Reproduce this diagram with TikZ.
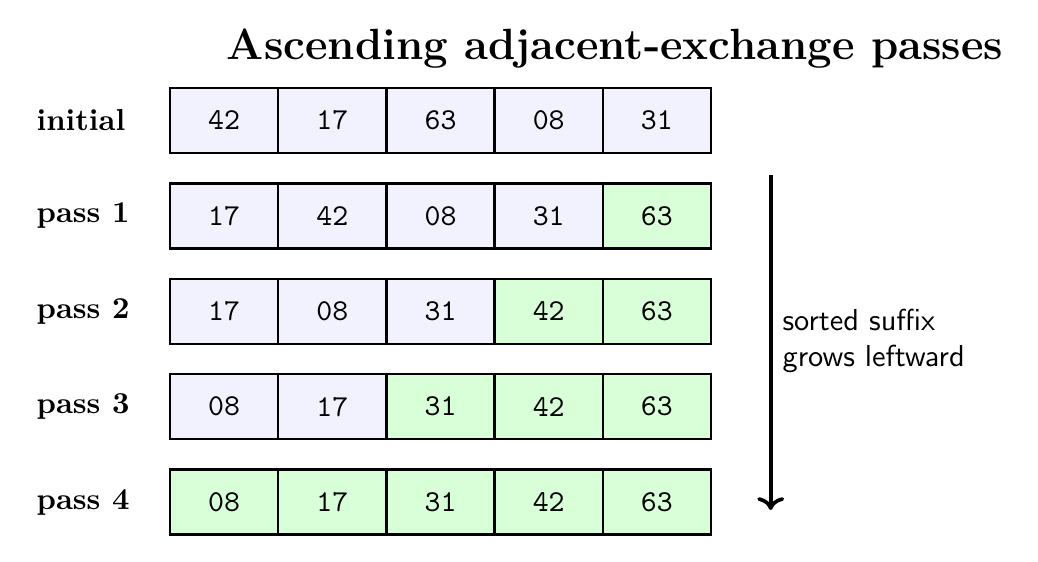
\documentclass[tikz,border=0pt]{standalone}
\usetikzlibrary{arrows.meta}
\begin{document}
\begin{tikzpicture}[x=0.3295pt,y=-0.3295pt,
  cell/.style={draw=black,thick,rectangle,minimum width=35.65pt,minimum height=21.4pt,inner sep=0pt,font=\ttfamily},
  unsorted/.style={cell,fill=blue!5},
  sorted/.style={cell,fill=green!15},
  rowlabel/.style={anchor=west,font=\bfseries,inner sep=0pt},
  arr/.style={very thick,->}]
\useasboundingbox (0,0) rectangle (1038,561);
\node[anchor=base,font=\Large\bfseries,inner sep=0pt] (title) at (615,59) {Ascending adjacent-exchange passes};
% rows: label, values, number of sorted cells
\foreach \r/\lab/\vals/\ns in {0/initial/{42,17,63,08,31}/0, 1/pass 1/{17,42,08,31,63}/1, 2/pass 2/{17,08,31,42,63}/2, 3/pass 3/{08,17,31,42,63}/3, 4/pass 4/{08,17,31,42,63}/5}{
  \node[rowlabel] (lab\r) at (36,120.5+95.4*\r) {\lab};
  \foreach \v [count=\c from 0] in \vals {
    \pgfmathtruncatemacro{\issorted}{\c>=5-\ns ? 1 : 0}
    \ifnum\issorted=1
      \node[sorted] (c\r-\c) at (224.1+108.2*\c,120.5+95.4*\r) {\v};
    \else
      \node[unsorted] (c\r-\c) at (224.1+108.2*\c,120.5+95.4*\r) {\v};
    \fi
  }
}
\coordinate (atop) at (770.7,175);
\coordinate (abot) at (770.7,510);
\draw[arr] (atop) -- (abot);
\node[anchor=west,align=left,font=\sffamily,inner sep=0pt] (note) at (782,341) {sorted suffix\\grows leftward};
\end{tikzpicture}
\end{document}
